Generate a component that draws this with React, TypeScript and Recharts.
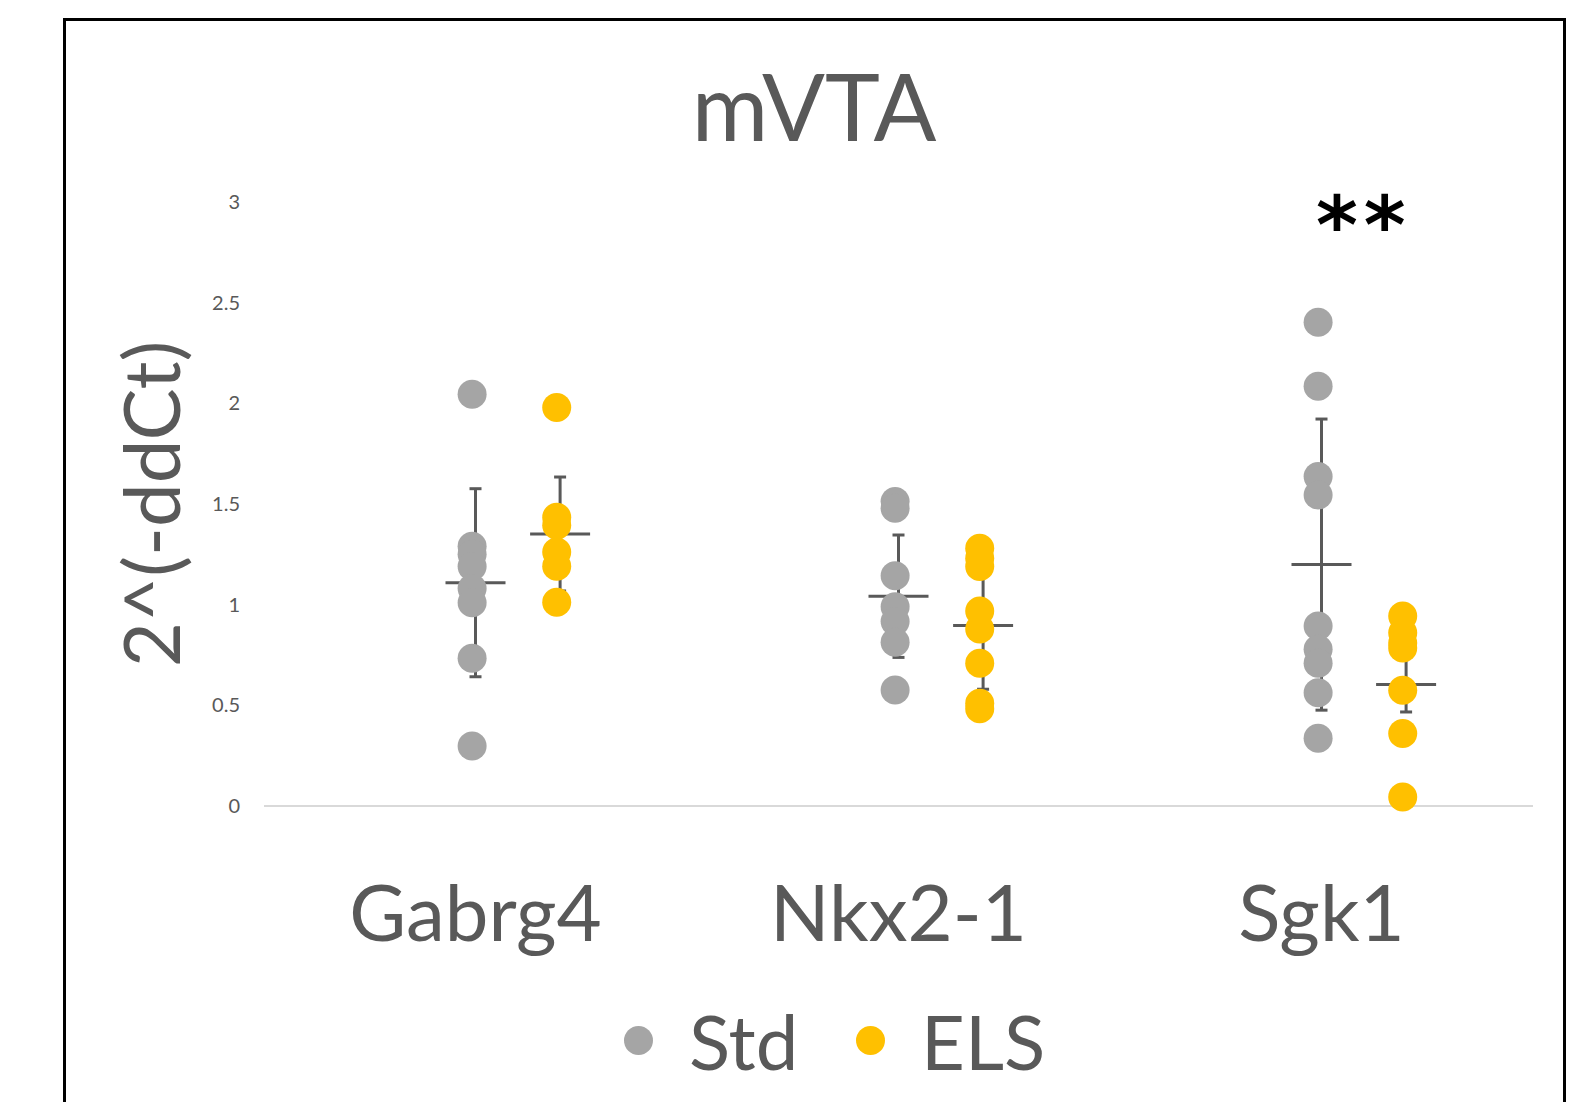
import React from 'react';
import { ScatterChart, Scatter, XAxis, YAxis, ErrorBar } from 'recharts';

const genes = ['Gabrg4', 'Nkx2-1', 'Sgk1'];
const stdGabrg4 = [2.045, 1.29, 1.25, 1.19, 1.08, 1.01, 0.734, 0.298];
const stdNkx21 = [1.512, 1.479, 1.144, 0.99, 0.916, 0.813, 0.576];
const stdSgk1 = [2.403, 2.085, 1.636, 1.545, 0.894, 0.778, 0.709, 0.563, 0.336];
const elsGabrg4 = [1.979, 1.434, 1.395, 1.261, 1.191, 1.012];
const elsNkx21 = [1.28, 1.23, 1.189, 0.968, 0.879, 0.709, 0.51, 0.483];
const elsSgk1 = [0.944, 0.86, 0.81, 0.785, 0.575, 0.36, 0.045];
const stdMean = [1.109, 1.042, 1.199];
const stdSd = [0.467, 0.304, 0.723];
const elsMean = [1.351, 0.896, 0.603];
const elsSd = [0.283, 0.316, 0.136];
const yTicks = [0, 0.5, 1, 1.5, 2, 2.5, 3];
const seriesNames = ['Std', 'ELS'];
const significance = [{ x: 3.1, y: 2.745, text: '**' }];

const GRAY = '#a5a5a5';
const GOLD = '#ffc000';
const TEXT = '#595959';
const FONT = 'Lato, "Open Sans", sans-serif';

const toPoints = (groups: number[][], off: number) =>
  groups.flatMap((vals, i) => vals.map((v) => ({ x: i + 1 + off, y: v })));

const stdPoints = toPoints([stdGabrg4, stdNkx21, stdSgk1], -0.008);
const elsPoints = toPoints([elsGabrg4, elsNkx21, elsSgk1], 0.192);
const stdSummary = stdMean.map((m, i) => ({ x: i + 1, y: m, err: stdSd[i] }));
const elsSummary = elsMean.map((m, i) => ({ x: i + 1.2, y: m, err: elsSd[i] }));

const makeDot = (color: string) => (props: any) => (
  <circle cx={props.cx} cy={props.cy} r={14.5} fill={color} />
);

const MeanLine = (props: any) => (
  <line
    x1={props.cx - 30}
    x2={props.cx + 30}
    y1={props.cy}
    y2={props.cy}
    stroke={TEXT}
    strokeWidth={3}
  />
);

const StarShape = (props: any) => (
  <text
    x={props.cx}
    y={props.cy}
    textAnchor="middle"
    fontFamily='"DejaVu Sans", sans-serif'
    fontWeight="bold"
    fontSize={80}
    letterSpacing={6}
    fill="#000"
  >
    {props.payload.text}
  </text>
);

const GeneTick = (props: any) => {
  const { x, y, payload } = props;
  return (
    <text
      x={x}
      y={y}
      dy={135}
      textAnchor="middle"
      fontFamily={FONT}
      fontSize={78}
      fill={TEXT}
    >
      {genes[Math.round(payload.value) - 1]}
    </text>
  );
};

const YLabel = (props: any) => {
  const vb = props.viewBox || {};
  const cy = (vb.y ?? 202) + (vb.height ?? 604) / 2;
  return (
    <text
      transform={`translate(180, ${cy}) rotate(-90)`}
      textAnchor="middle"
      fontFamily={FONT}
      fontSize={78}
      fill={TEXT}
    >
      2^(-ddCt)
    </text>
  );
};

export default function App() {
  return (
    <div
      style={{
        position: 'fixed',
        left: 0,
        top: 0,
        width: 1583,
        height: 1102,
        overflow: 'hidden',
        background: '#fff',
      }}
    >
      <div
        style={{
          position: 'absolute',
          left: 63,
          top: 18,
          width: 1497,
          height: 1200,
          border: '3px solid #000',
        }}
      />
      <div
        style={{
          position: 'absolute',
          left: 65,
          width: 1498,
          top: 45,
          textAlign: 'center',
          fontFamily: FONT,
          fontSize: 93,
          color: TEXT,
          lineHeight: '120px',
        }}
      >
        mVTA
      </div>
      <div style={{ position: 'absolute', left: 0, top: 0 }}>
        <ScatterChart
          width={1583}
          height={1102}
          margin={{ top: 202, right: 50, bottom: 196, left: 0 }}
        >
          <XAxis
            type="number"
            dataKey="x"
            domain={[0.5, 3.5]}
            ticks={[1, 2, 3]}
            height={100}
            axisLine={{ stroke: '#d9d9d9', strokeWidth: 2 }}
            tickLine={false}
            tickSize={0}
            tickMargin={0}
            tick={<GeneTick />}
            interval={0}
          />
          <YAxis
            type="number"
            dataKey="y"
            domain={[0, 3]}
            ticks={yTicks}
            width={264}
            axisLine={false}
            tickLine={false}
            tickSize={0}
            tickMargin={24}
            tick={{ fill: TEXT, fontSize: 20, fontFamily: FONT }}
            label={<YLabel />}
          />
          <Scatter data={stdSummary} shape={MeanLine} isAnimationActive={false}>
            <ErrorBar dataKey="err" direction="y" width={6} stroke={TEXT} strokeWidth={3} />
          </Scatter>
          <Scatter data={elsSummary} shape={MeanLine} isAnimationActive={false}>
            <ErrorBar dataKey="err" direction="y" width={6} stroke={TEXT} strokeWidth={3} />
          </Scatter>
          <Scatter name={seriesNames[0]} data={stdPoints} shape={makeDot(GRAY)} isAnimationActive={false} />
          <Scatter name={seriesNames[1]} data={elsPoints} shape={makeDot(GOLD)} isAnimationActive={false} />
          <Scatter data={significance} shape={StarShape} isAnimationActive={false} />
        </ScatterChart>
      </div>
      {seriesNames.map((name, i) => (
        <div
          key={name}
          style={{
            position: 'absolute',
            left: i === 0 ? 624 : 856,
            top: 990,
            height: 100,
            display: 'flex',
            alignItems: 'center',
            fontFamily: FONT,
            fontSize: 76,
            color: TEXT,
          }}
        >
          <span
            style={{
              display: 'inline-block',
              width: 29,
              height: 29,
              borderRadius: '50%',
              background: i === 0 ? GRAY : GOLD,
              marginRight: 36,
            }}
          />
          <span>{name}</span>
        </div>
      ))}
    </div>
  );
}
